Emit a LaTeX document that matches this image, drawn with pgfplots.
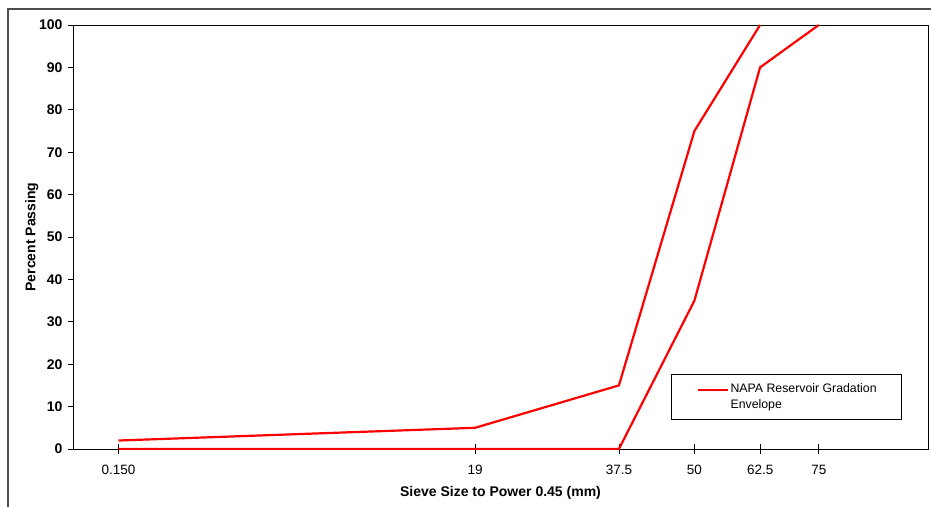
\documentclass[border=0pt]{standalone}
\usepackage{fontspec}
\setmainfont{Liberation Sans}
\usepackage{pgfplots}
\usepackage{pgfplotstable}
\pgfplotsset{compat=1.18}
\pgfplotstableread{
size pass
0.15 2
19 5
37.5 15
50 75
62.5 100
}\upperenv
\pgfplotstableread{
size pass
0.15 0
19 0
37.5 0
50 35
62.5 90
75 100
}\lowerenv
\begin{document}
\begin{tikzpicture}[x=1pt,y=1pt]
\draw[line width=1.2pt, black!70] (8,-30) -- (8,497) -- (960,497);
\begin{axis}[
  at={(73pt,57pt)}, anchor=south west,
  scale only axis, width=855pt, height=424pt,
  xmin=0, xmax=8, ymin=0, ymax=100,
  xtick={0.42587,3.7622,5.1090,5.8151,6.4295,6.9792},
  xticklabels={0.150,19,37.5,50,62.5,75},
  ytick={0,10,...,100},
  axis line style={line width=0.9pt},
  every tick/.style={black, line width=0.9pt},
  xtick align=center, ytick align=outside,
  xtick pos=bottom, ytick pos=left,
  major tick length=10pt,
  y tick style={/pgfplots/major tick length=5pt},
  /pgf/number format/assume math mode=true,
  yticklabel style={font=\fontsize{14}{16}\selectfont\bfseries, xshift=3pt},
  xticklabel style={font=\fontsize{13.5}{16}\selectfont, yshift=-8pt},
  xlabel={Sieve Size to Power 0.45 (mm)},
  ylabel={Percent Passing},
  xlabel style={yshift=-4pt},
  ylabel style={yshift=-6pt},
  label style={font=\fontsize{14}{16}\selectfont\bfseries},
  legend style={at={(0.6994,0.1769)}, anchor=north west, draw=black,
    line width=0.8pt, fill=white, inner xsep=4pt, inner ysep=8pt,
    nodes={inner sep=1pt, text depth=, text height=, font=\fontsize{12.3}{16}\selectfont}},
  legend image code/.code={\path (0pt,0pt); \draw[#1] (22pt,7pt) -- (52pt,7pt);},
]
\addplot[red, line width=2.2pt] table[x expr=\thisrow{size}^0.45, y=pass] {\upperenv};
\addlegendentry{\parbox[t]{166pt}{NAPA Reservoir Gradation\\Envelope}}
\addplot[red, line width=2.2pt, forget plot] table[x expr=\thisrow{size}^0.45, y=pass] {\lowerenv};
\end{axis}
\pgfresetboundingbox
\useasboundingbox (0,0) rectangle (931,506);
\end{tikzpicture}
\end{document}
